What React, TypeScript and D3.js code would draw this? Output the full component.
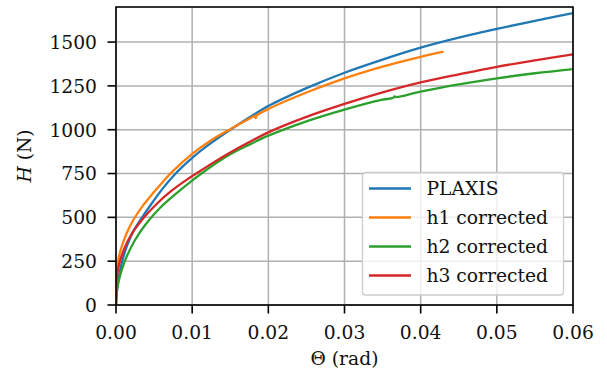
import React from "react";
import * as d3 from "d3";

const xTicks = [0, 0.01, 0.02, 0.03, 0.04, 0.05, 0.06];
const yTicks = [0, 250, 500, 750, 1000, 1250, 1500];

const plaxisTheta = [0, 0.0001, 0.0003, 0.00075, 0.0014, 0.00227, 0.00358, 0.0049, 0.0062, 0.0075, 0.0087, 0.01, 0.0125, 0.015, 0.0175, 0.02, 0.025, 0.03, 0.035, 0.04, 0.045, 0.05, 0.055, 0.06];
const plaxisH = [0, 70, 143, 238, 333, 420, 510, 592, 668, 735, 788, 840, 925, 1000, 1070, 1135, 1237, 1325, 1400, 1468, 1525, 1575, 1621, 1665];

const h1Theta = [0, 0.0001, 0.0003, 0.00075, 0.0014, 0.00227, 0.00358, 0.0049, 0.0062, 0.0075, 0.01, 0.0125, 0.015, 0.0175, 0.0182, 0.01835, 0.0185, 0.02, 0.025, 0.03, 0.035, 0.04, 0.043];
const h1H = [0, 143, 257, 333, 409, 485, 570, 640, 705, 765, 862, 940, 1003, 1062, 1078, 1066, 1082, 1118, 1212, 1293, 1360, 1416, 1445];

const h2Theta = [0, 0.0001, 0.0003, 0.00075, 0.0014, 0.0025, 0.004, 0.0058, 0.008, 0.0097, 0.0125, 0.015, 0.0175, 0.02, 0.025, 0.03, 0.0347, 0.0364, 0.0366, 0.0368, 0.04, 0.045, 0.05, 0.055, 0.06];
const h2H = [0, 70, 124, 200, 276, 371, 466, 555, 640, 700, 790, 860, 915, 966, 1048, 1115, 1169, 1182, 1190, 1186, 1217, 1258, 1293, 1322, 1346];

const h3Theta = [0, 0.0001, 0.00052, 0.00117, 0.00205, 0.00358, 0.0053, 0.0071, 0.0093, 0.0106, 0.0125, 0.015, 0.0175, 0.02, 0.025, 0.03, 0.035, 0.04, 0.045, 0.05, 0.055, 0.06];
const h3H = [0, 161, 250, 330, 405, 495, 575, 645, 715, 752, 805, 870, 930, 985, 1073, 1147, 1213, 1270, 1316, 1359, 1395, 1430];

const seriesNames = ["PLAXIS", "h1 corrected", "h2 corrected", "h3 corrected"];
const seriesColors = ["#1f77b4", "#ff7f0e", "#2ca02c", "#d62728"];

export default function App() {
  const W = 607, H = 377;
  const left = 116, right = 573, top = 7, bottom = 305;
  const x = d3.scaleLinear().domain([0, 0.06]).range([left, right]);
  const y = d3.scaleLinear().domain([0, 1700]).range([bottom, top]);
  const font = "DejaVu Serif";
  const fs = 18.7;

  const series = [
    [plaxisTheta, plaxisH],
    [h1Theta, h1H],
    [h2Theta, h2H],
    [h3Theta, h3H],
  ];
  const line = d3
    .line<[number, number]>()
    .x((d) => x(d[0]))
    .y((d) => y(d[1]))
    .curve(d3.curveCatmullRom.alpha(0.5));

  const lx = 362.5, ly = 172.5, lw = 201, lh = 122.5;
  const rowY = [188.5, 217.5, 246.5, 275.5];

  return (
    <svg width={W} height={H} style={{ position: "absolute", left: 0, top: 0 }} fontFamily={font}>
      <defs>
        <clipPath id="plotclip">
          <rect x={left} y={top} width={right - left} height={bottom - top} />
        </clipPath>
      </defs>
      <rect x={0} y={0} width={W} height={H} fill="white" />
      {xTicks.map((t) => (
        <line key={"gx" + t} x1={x(t)} x2={x(t)} y1={top} y2={bottom} stroke="#b0b0b0" strokeWidth={1.5} />
      ))}
      {yTicks.map((t) => (
        <line key={"gy" + t} x1={left} x2={right} y1={y(t)} y2={y(t)} stroke="#b0b0b0" strokeWidth={1.5} />
      ))}
      <g clipPath="url(#plotclip)">
        {series.map(([th, hv], i) => (
          <path
            key={i}
            d={line(th.map((t, j) => [t, hv[j]] as [number, number])) || ""}
            fill="none"
            stroke={seriesColors[i]}
            strokeWidth={2.3}
            strokeLinejoin="round"
          />
        ))}
      </g>
      <rect x={left} y={top} width={right - left} height={bottom - top} fill="none" stroke="black" strokeWidth={1.6} />
      {xTicks.map((t) => (
        <g key={"tx" + t}>
          <line x1={x(t)} x2={x(t)} y1={bottom} y2={bottom + 8.5} stroke="black" strokeWidth={1.6} />
          <text x={x(t)} y={338.5} textAnchor="middle" fontSize={fs} fill="#111">
            {t.toFixed(2)}
          </text>
        </g>
      ))}
      {yTicks.map((t) => (
        <g key={"ty" + t}>
          <line x1={left - 8.5} x2={left} y1={y(t)} y2={y(t)} stroke="black" strokeWidth={1.6} />
          <text x={97} y={y(t) + 6.8} textAnchor="end" fontSize={fs} fill="#111">
            {t}
          </text>
        </g>
      ))}
      <text x={(left + right) / 2} y={365} textAnchor="middle" fontSize={fs} fill="#111">
        Θ (rad)
      </text>
      <text transform={`translate(31, ${(top + bottom) / 2}) rotate(-90)`} textAnchor="middle" fontSize={fs} fill="#111">
        <tspan fontStyle="italic">H</tspan> (N)
      </text>
      <rect x={lx} y={ly} width={lw} height={lh} rx={3} fill="white" fillOpacity={0.8} stroke="#cccccc" strokeWidth={1.3} />
      {seriesNames.map((n, i) => (
        <g key={n}>
          <line x1={369} x2={411} y1={rowY[i]} y2={rowY[i]} stroke={seriesColors[i]} strokeWidth={2.3} />
          <text x={426.5} y={rowY[i] + 6.8} fontSize={fs} fill="#111">
            {n}
          </text>
        </g>
      ))}
    </svg>
  );
}
